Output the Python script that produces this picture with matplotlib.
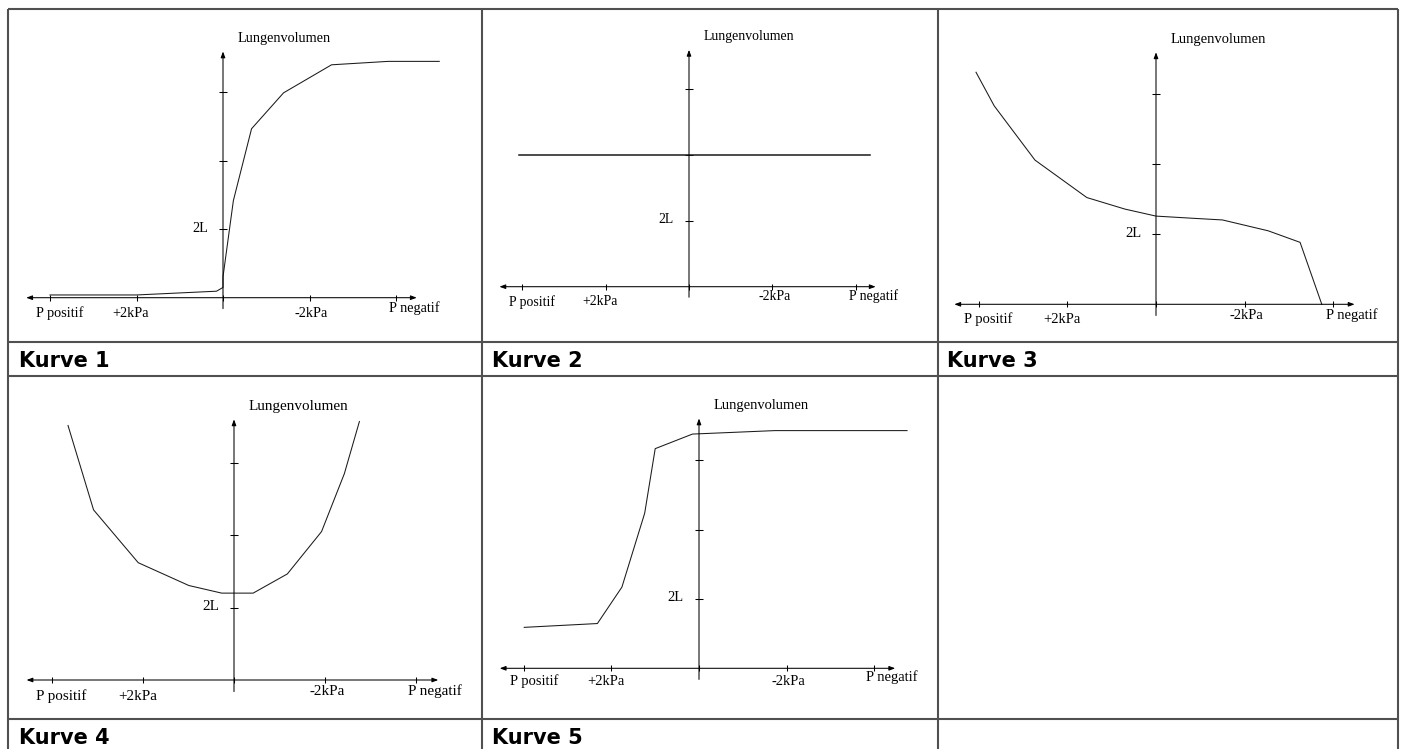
import matplotlib
matplotlib.use('Agg')
import matplotlib.pyplot as plt

W, H = 1403, 749

# pressure (kPa, positive = left) and lung volume (L) for each curve
kurve1_p = [4.0, 2.0, 0.15, 0.0, 0.0, -0.24, -0.66, -1.40, -2.51, -3.82, -5.0]
kurve1_v = [0.08, 0.08, 0.19, 0.30, 0.61, 2.84, 4.94, 5.99, 6.81, 6.91, 6.91]

kurve2_p = [4.08, -4.34]
kurve2_v = [4.0, 4.0]

kurve3_p = [4.06, 3.65, 2.73, 1.56, 0.70, 0.0, -0.80, -1.50, -2.53, -3.25, -3.74]
kurve3_v = [6.63, 5.67, 4.12, 3.05, 2.72, 2.52, 2.46, 2.41, 2.10, 1.77, 0.0]

kurve4_p = [3.64, 3.08, 2.10, 0.99, 0.27, -0.42, -1.17, -1.92, -2.42, -2.75]
kurve4_v = [7.03, 4.70, 3.24, 2.61, 2.40, 2.40, 2.93, 4.10, 5.70, 7.14]

kurve5_p = [3.99, 2.32, 1.76, 1.24, 1.00, 0.15, -1.73, -4.75]
kurve5_v = [1.18, 1.29, 2.34, 4.47, 6.33, 6.75, 6.85, 6.85]

x_ticks = [4, 2, 0, -2, -4]
x_label_pos = [4, 2, -2, -4]
x_labels = ['P positif', '+2kPa', '-2kPa', 'P negatif']
y_ticks = [2, 4, 6]
y_label = '2L'
y_title = 'Lungenvolumen'
captions = ['Kurve 1', 'Kurve 2', 'Kurve 3', 'Kurve 4', 'Kurve 5']

# table grid (pixels)
col_x = [7.5, 482, 938, 1397.5]
row_y = [9, 342, 375.5, 719]

# per panel: cell box, origin pixel, px per kPa, px per L, label drops
panels = [
    dict(cell=(7.5, 9, 482, 342), o=(223, 297.7), sx=43.25, sy=34.2,
         dy=[15.7, 15.7, 15.7, 10.7], p=kurve1_p, v=kurve1_v, lw=0.75),
    dict(cell=(482, 9, 938, 342), o=(689, 286.7), sx=41.67, sy=32.9,
         dy=[15, 15, 10, 9], p=kurve2_p, v=kurve2_v, lw=1.1),
    dict(cell=(938, 9, 1397.5, 342), o=(1156, 304.3), sx=44.33, sy=35.0,
         dy=[15, 15, 11.7, 10.7], p=kurve3_p, v=kurve3_v, lw=0.75),
    dict(cell=(7.5, 375.5, 482, 719), o=(234, 680), sx=45.6, sy=36.2,
         dy=[16, 16, 11.7, 11], p=kurve4_p, v=kurve4_v, lw=0.75),
    dict(cell=(482, 375.5, 938, 719), o=(699, 668.3), sx=43.8, sy=34.7,
         dy=[13.3, 13.3, 13.3, 9.3], p=kurve5_p, v=kurve5_v, lw=0.75),
]
label_dx = [10, -5.5, 2, 18]


def frac(x0, y0, x1, y1):
    return [x0 / W, 1 - y1 / H, (x1 - x0) / W, (y1 - y0) / H]


fig = plt.figure(figsize=(W / 100, H / 100), dpi=100)
fig.patch.set_facecolor('white')

# table lines
bg = fig.add_axes([0, 0, 1, 1])
bg.set_xlim(0, W)
bg.set_ylim(H, 0)
bg.axis('off')
grid_kw = dict(color='#505050', lw=1.5, solid_capstyle='butt')
for x in col_x:
    bg.plot([x, x], [row_y[0], H], **grid_kw)
for y in row_y:
    bg.plot([col_x[0], col_x[-1]], [y, y], **grid_kw)

# captions
cap_pos = [(19, 367), (492, 367), (947, 367), (19, 744), (492, 744)]
for (cx, cy), txt in zip(cap_pos, captions):
    bg.text(cx, cy, txt, fontsize=15, fontweight='bold', family='DejaVu Sans',
            ha='left', va='baseline', color='black')

serif = 'Liberation Serif'
for pn in panels:
    x0, y0, x1, y1 = pn['cell']
    ox, oy = pn['o']
    sx, sy = pn['sx'], pn['sy']
    ax = fig.add_axes(frac(x0, y0, x1, y1))
    # x runs from positive pressure (left) to negative (right)
    ax.set_xlim((ox - x0) / sx, -(x1 - ox) / sx)
    ax.set_ylim(-(y1 - oy) / sy, (oy - y0) / sy)
    ax.axis('off')
    fs = 10.3 * sx / 43.25

    # axes with arrow heads
    ax.annotate('', xy=(-4.48, 0), xytext=(4.55, 0),
                arrowprops=dict(arrowstyle='<|-|>,head_length=0.35,head_width=0.13',
                                lw=0.75, color='black', shrinkA=0, shrinkB=0))
    ax.annotate('', xy=(0, 7.2), xytext=(0, -0.32),
                arrowprops=dict(arrowstyle='-|>,head_length=0.35,head_width=0.13',
                                lw=0.75, color='black', shrinkA=0, shrinkB=0))
    ax.plot(x_ticks, [0] * len(x_ticks), ls='none', marker='|', ms=4.5,
            mew=0.75, color='black')
    ax.plot([0] * len(y_ticks), y_ticks, ls='none', marker='_', ms=5.5,
            mew=0.75, color='black')

    for xp, lab, dx, dy in zip(x_label_pos, x_labels, label_dx, pn['dy']):
        ax.text(xp - dx / sx, -dy / sy, lab, family=serif, fontsize=fs,
                ha='center', va='center')
    ax.text(15 / sx, 2 + 1 / sy, y_label, family=serif, fontsize=fs,
            ha='right', va='center')
    ax.text(-15 / sx, 7.2 + 13 / sy, y_title, family=serif, fontsize=fs,
            ha='left', va='center')

    ax.plot(pn['p'], pn['v'], color='#1a1a1a', lw=pn['lw'], clip_on=False)

plt.savefig('out.png', dpi=100)
